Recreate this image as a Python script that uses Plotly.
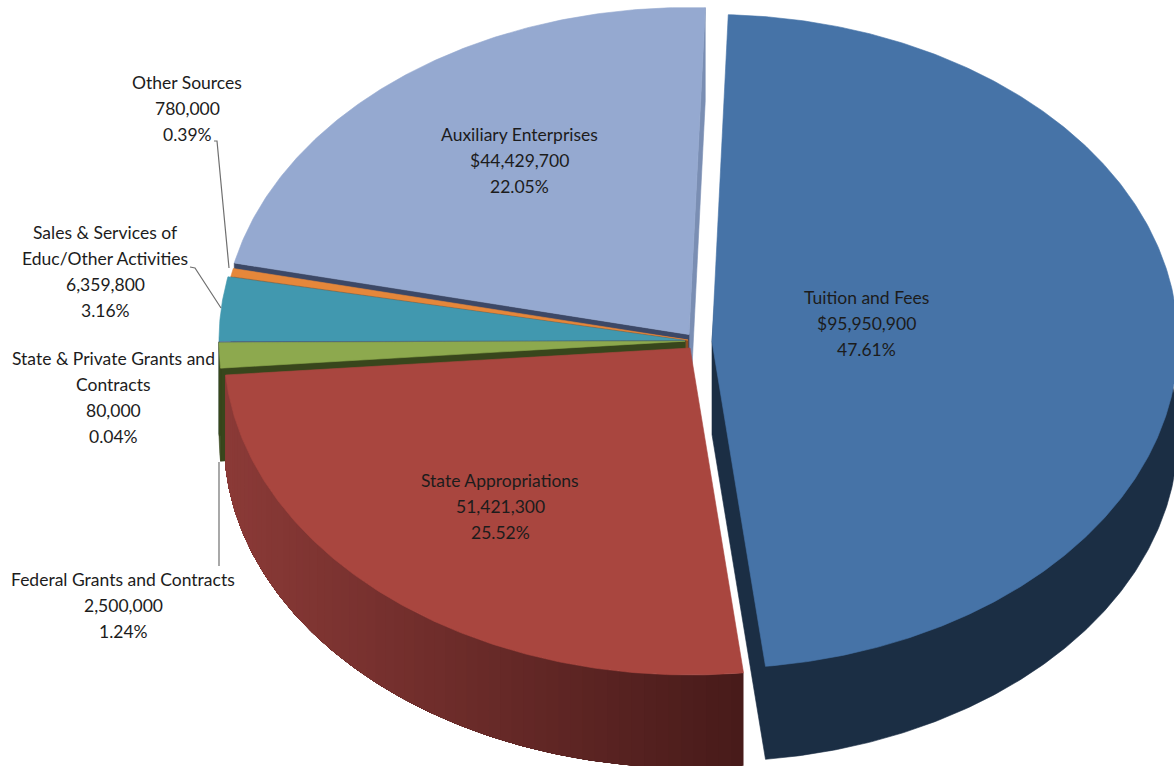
import math
import plotly.graph_objects as go

# ---- data ----
names = ["Tuition and Fees", "State Appropriations", "Federal Grants and Contracts",
         "State & Private Grants and Contracts", "Sales & Services of Educ/Other Activities",
         "Other Sources", "Auxiliary Enterprises"]
values = [95950900, 51421300, 2500000, 80000, 6359800, 780000, 44429700]
value_labels = ["$95,950,900", "51,421,300", "2,500,000", "80,000", "6,359,800", "780,000", "$44,429,700"]
pct_labels = ["47.61%", "25.52%", "1.24%", "0.04%", "3.16%", "0.39%", "22.05%"]
name_lines = [["Tuition and Fees"], ["State Appropriations"], ["Federal Grants and Contracts"],
              ["State & Private Grants and", "Contracts"], ["Sales & Services of", "Educ/Other Activities"],
              ["Other Sources"], ["Auxiliary Enterprises"]]
top_colors = ["#4673A7", "#A9463F", "#8DA94E", "#4E6A8A", "#4198AF", "#E5873A", "#95A9D0"]
cut_colors = ["#1B2E44", "#4A1C1A", "#38461C", "#38461C", "#3A5F78", "#8A4D20", "#3C4866"]

# ---- layout of the drawing ----
RX, RY, DEPTH = 466, 327, 93
START_DEG = 2.0
apex = [(712, 341.5), (690, 348), (685, 341.2), (685, 341), (685, 340.5), (688, 340), (689, 334.5)]
label_pos = [(866, 297), (500, 480), (123, 579), (113, 358), (105, 232), (187, 82), (519, 134)]
LINE_GAP = 26
leaders = [((214, 141), (217, 141), (229, 268)),
           ((190, 267), (195, 268), (221, 308)),
           ((219, 462), (219, 566))]

total = sum(values)
angles = [START_DEG]
for v in values:
    angles.append(angles[-1] + 360 * v / total)


def rim(i, deg, dy=0):
    a = math.radians(deg)
    return apex[i][0] + RX * math.sin(a), apex[i][1] - RY * math.cos(a) + dy


def arc(i, a0, a1, dy=0):
    n = max(2, int(abs(a1 - a0) * 2) + 2)
    pts = [rim(i, a0 + (a1 - a0) * k / (n - 1), dy) for k in range(n)]
    return [p[0] for p in pts], [p[1] for p in pts]


fig = go.Figure()


def poly(xs, ys, color, name=None, width=0.6):
    fig.add_trace(go.Scatter(x=xs, y=ys, mode="lines", fill="toself", fillcolor=color,
                             line=dict(color=color, width=width), hoverinfo="skip",
                             showlegend=False, name=name))


def top(i):
    xs, ys = arc(i, angles[i], angles[i + 1])
    poly([apex[i][0]] + xs + [apex[i][0]], [apex[i][1]] + ys + [apex[i][1]], top_colors[i], names[i])


def cut(i, deg, color):
    x0, y0 = rim(i, deg)
    poly([apex[i][0], x0, x0, apex[i][0], apex[i][0]],
         [apex[i][1], y0, y0 + DEPTH, apex[i][1] + DEPTH, apex[i][1]], color)


def outer(i, a0, a1, color, width=0.6):
    xs, ys = arc(i, a0, a1)
    xb, yb = arc(i, a0, a1, DEPTH)
    poly(xs + xb[::-1] + [xs[0]], ys + yb[::-1] + [ys[0]], color, width=width)


# Auxiliary Enterprises (back)
cut(6, angles[7], "#7A8EB3")
cut(6, angles[6], cut_colors[6])
top(6)
# Other Sources
cut(5, angles[5], cut_colors[5])
top(5)
# Sales & Services
cut(4, angles[4], cut_colors[4])
top(4)
# State & Private
cut(3, angles[3], cut_colors[3])
top(3)
# Federal
cut(2, angles[2], cut_colors[2])
outer(2, angles[2], angles[4], cut_colors[2])
top(2)
# State Appropriations: outer wall shaded left-to-right, painted from the dark end so no seams show
STEPS = 60
c_left, c_right = (0x8B, 0x3A, 0x37), (0x48, 0x1B, 0x1A)
x_right, x_left = rim(1, angles[1])[0], rim(1, angles[2])[0]
for k in range(STEPS):
    a0 = angles[1] + (angles[2] - angles[1]) * k / STEPS
    f = (x_right - rim(1, a0)[0]) / (x_right - x_left)
    col = "rgb(%d,%d,%d)" % tuple(round(c_right[j] + (c_left[j] - c_right[j]) * f) for j in range(3))
    outer(1, a0, angles[2], col, width=0)
top(1)
# Tuition and Fees (exploded): cut and outer wall as one silhouette
xb, yb = arc(0, angles[1], angles[0], DEPTH)
poly([apex[0][0], apex[0][0]] + xb + [apex[0][0]],
     [apex[0][1], apex[0][1] + DEPTH] + yb + [apex[0][1]], cut_colors[0])
top(0)

for seg in leaders:
    fig.add_trace(go.Scatter(x=[p[0] for p in seg], y=[p[1] for p in seg], mode="lines",
                             line=dict(color="#6f6f6f", width=1.2), hoverinfo="skip", showlegend=False))

annotations = []
for i in range(len(values)):
    lines = name_lines[i] + [value_labels[i], pct_labels[i]]
    for j, text in enumerate(lines):
        annotations.append(dict(x=label_pos[i][0], y=label_pos[i][1] + j * LINE_GAP, xref="x", yref="y",
                                text=text, showarrow=False, xanchor="center", yanchor="middle",
                                font=dict(family="Lato, Carlito, sans-serif", size=17.5, color="#1c1c1c")))

fig.update_layout(width=1174, height=766, autosize=False, margin=dict(l=0, r=0, t=0, b=0),
                  paper_bgcolor="white", plot_bgcolor="white", showlegend=False,
                  xaxis=dict(range=[0, 1174], visible=False, fixedrange=True),
                  yaxis=dict(range=[766, 0], visible=False, fixedrange=True),
                  annotations=annotations)
fig.write_html("out.html", config={"displayModeBar": False},
               post_script="document.body.style.margin='0';document.body.style.overflow='hidden';")
